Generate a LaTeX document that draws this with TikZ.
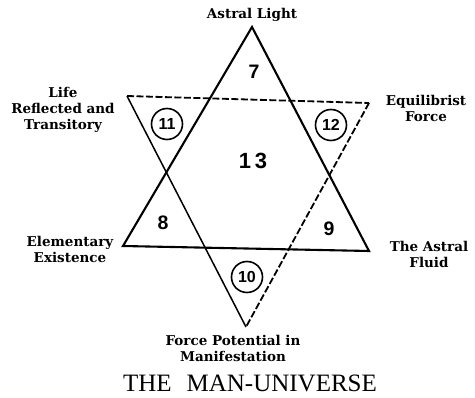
\documentclass[tikz,border=0pt]{standalone}
\usepackage{fontspec}
\setmainfont{DejaVu Serif}
\newfontfamily\titlefont{Liberation Serif}
\newfontfamily\numfont{Liberation Sans}
\begin{document}
\begin{tikzpicture}[x=1pt,y=-1pt,
  edge/.style={line width=2.1pt,line join=miter},
  thinedge/.style={line width=1.5pt},
  dashedge/.style={line width=1.8pt,dash pattern=on 7pt off 2.5pt},
  lbl/.style={font=\fontsize{13.5}{16}\selectfont\bfseries,align=center,inner sep=0pt,anchor=base},
  num/.style={font=\numfont\fontsize{22}{22}\selectfont\bfseries,inner sep=0pt},
  smallnum/.style={font=\numfont\fontsize{19.5}{19.5}\selectfont\bfseries,inner sep=0pt},
  cnum/.style={circle,draw,line width=1.6pt,minimum size=31pt,inner sep=0pt,font=\numfont\fontsize{16}{16}\selectfont\bfseries}]
\useasboundingbox (0,0) rectangle (475,398);
% upright triangle
\coordinate (UA) at (252,27);
\coordinate (UL) at (123,246);
\coordinate (UR) at (369,251);
% inverted triangle
\coordinate (DL) at (127,96);
\coordinate (DR) at (369,103);
\coordinate (DB) at (246,327);
\draw[edge] (UL) -- (UA) -- (UR) -- cycle;
\draw[dashedge] (DL) -- (DR);
\draw[dashedge] (DR) -- (DB);
\draw[thinedge] (DB) -- (DL);
% numbers
\node[smallnum] (n7) at (254,72) {7};
\node[num] (n13) at (253,161) {1\kern4pt3};
\node[smallnum] (n8) at (163,223) {8};
\node[smallnum] (n9) at (329,229) {9};
\node[cnum] (n11) at (167,124) {11};
\node[cnum] (n12) at (331,125) {12};
\node[cnum] (n10) at (247,277) {10};
% labels (anchor = baseline of last line)
\node[lbl] (astral) at (252,19) {Astral Light};
\node[lbl] (life) at (63,130) {Life\\Reflected and\\Transitory};
\node[lbl] (equi) at (426,122) {Equilibrist\\Force};
\node[lbl] (elem) at (70,263) {Elementary\\Existence};
\node[lbl] (fluid) at (429,268) {The Astral\\Fluid};
\node[lbl] (force) at (233,362) {Force Potential in\\Manifestation};
\node[inner sep=0pt,anchor=base,font=\titlefont\fontsize{25}{25}\selectfont] (title) at (250,392) {THE\hspace{0.6em}MAN-UNIVERSE};
\end{tikzpicture}
\end{document}
